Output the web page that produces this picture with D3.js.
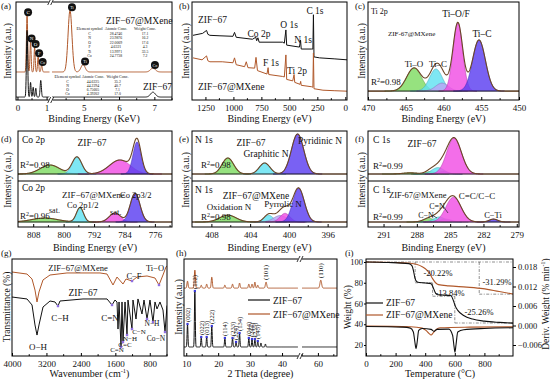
<!DOCTYPE html>
<html>
<head>
<meta charset="utf-8">
<script src="https://cdn.jsdelivr.net/npm/d3@7"></script>
<style>
  body { margin: 0; background: #fff; }
  svg { display: block; font-family: "Liberation Serif", "Times New Roman", serif; }
</style>
</head>
<body>
<svg id="figura" width="550" height="379"></svg>
<script>
// ================= dados =================

// (a) EDS: [energia keV, altura, largura keV]
const edsBaixaMx  = [[0.33, 58, 0.05], [0.45, 31, 0.045], [0.59, 25.5, 0.045], [0.71, 16, 0.045], [0.83, 7, 0.05]];
const edsAltaMx   = [[4.61, 63, 0.13], [4.98, 7.5, 0.14], [6.96, 4, 0.16]];
const edsBaixaZif = [[0.33, 68, 0.05], [0.45, 15, 0.04], [0.54, 10, 0.04], [0.63, 9, 0.04], [0.80, 17, 0.05]];
const edsAltaZif  = [[6.96, 5, 0.16]];
const edsFundoMx = 28.6, edsFundoZif = 3;
const nomesBaixa = ["C", "N", "O", "F", "Co"];
const nomesAlta  = ["Ti", "Ti", "Co"];
const cabecalhoTabela = ["Element symbol", "Atomic Conc.", "Weight Conc."];
const tabelaMx  = [["C", "28.4746", "17.1"], ["N", "23.9876", "16.2"], ["O", "22.0009", "17.6"],
                   ["F", "4.6321", "4.3"], ["Ti", "13.9971", "33.5"], ["Co", "24.7738", "7.2"]];
const tabelaZif = [["C", "44.6225", "35.2"], ["N", "44.2294", "40.7"], ["O", "6.75605", "7.1"], ["Co", "4.39202", "17.0"]];

// (b) XPS survey: [BE eV, intensidade]
const surveyZif = [[1361,66],[1275,68],[1240,71],[1228,67],[1210,66],[1120,65.5],[1004,65],[990,69],[975,64],
  [830,62],[800,64],[792,60.5],[781,63.5],[770,59],[560,59],[545,58],[531,71.5],[524,56],[410,54],[400,61],
  [394,52],[300,52],[290,52],[285,87],[280,44],[230,43],[100,42],[-15,41]];
const surveyMx = [[1361,43],[1280,41],[1240,45],[1228,40],[1210,39],[1100,39],[1004,38],[990,43],[975,36],
  [900,34],[885,39],[870,33],[810,32.5],[798,43.5],[785,30],[700,26.5],[690,33],[684,26],[560,24],[545,23.5],
  [531,46],[524,21],[470,19.5],[458,26],[452,18],[405,16],[399,19],[394,15],[300,13.5],[290,13],[285,48],
  [280,11.5],[200,10],[100,9.5],[-15,9]];

// (c)-(f) componentes de ajuste: [centro eV, altura, FWHM eV]
const ti2p   = [[463.9, 26, 2.3], [461.0, 24.8, 2.0], [460.2, 9, 2.0], [458.1, 76.4, 1.5], [455.3, 57.4, 2.0]];
const co2pZif = [[803.6, 22.5, 6], [796.5, 42.5, 3], [785.2, 35, 6.5], [780.7, 80, 2.5]];
const co2pMx  = [[805, 11, 8], [795.7, 40, 2.2], [786.5, 25, 3.5], [781.2, 80, 3]];
const n1sZif  = [[406.3, 40, 1.4], [402.5, 27.5, 1.3], [399.1, 100, 1.5]];
const n1sMx   = [[406.3, 19, 2.0], [402.1, 19, 1.1], [400.9, 18, 1.6], [400.4, 24, 1.2], [399.0, 94, 1.4]];
const c1sZif  = [[288.6, 3, 1.5], [286.8, 6, 1.0], [286.1, 16, 1.3], [285.6, 6, 1.0], [284.65, 90, 1.55]];
const c1sMx   = [[286.9, 10, 1.2], [286.0, 14, 1.2], [285.4, 8, 1.2], [284.7, 69, 1.6], [281.1, 8, 0.9]];

// (g) FTIR: [numero de onda cm-1, transmitancia]
const ftirMx = [[4000,86.6],[3652,84.5],[3535,79.4],[3466,68],[3419,55.7],[3373,66],[3280,78.4],[3117,83.5],
  [2723,85.6],[1956,85.6],[1793,84.5],[1654,73.2],[1561,81.4],[1422,74.2],[1352,79.4],[1213,77.3],[1097,81.4],
  [864,82.5],[679,80.4],[586,73.2],[493,83.5],[423,91.8],[400,93]];
const ftirZif = [[4000,60.8],[3652,58.8],[3535,52.6],[3466,32],[3419,21.6],[3373,32],[3280,50.5],[3117,56.7],
  [3001,55.7],[2932,51.5],[2885,56.7],[2351,58.8],[1793,58.8],[1677,52.6],[1608,57.7],[1561,55.7],[1538,27.8],
  [1514,55.7],[1468,9.3],[1445,55.7],[1422,14.4],[1375,55.7],[1329,21.6],[1306,57.7],[1213,27.8],[1190,57.7],
  [1120,38.1],[1074,58.8],[981,43.3],[934,57.7],[864,38.1],[795,57.7],[725,35],[679,55.7],[632,48.5],
  [563,55.7],[493,47.4],[446,24.7],[400,52]];
const ftirMarcasZif = [[2932,51.5],[1677,52.6],[1468,9.3],[1422,14.4],[1329,21.6],[1213,27.8],[864,38.1],[725,35],[446,24.7]];
const ftirMarcasMx  = [[1213,77.3],[586,73.2]];

// (h) XRD: [2theta, altura, FWHM]
const xrdZif = [[10.4,23.7,0.3],[12.7,57.7,0.3],[14.7,10.3,0.3],[16.4,10.3,0.3],[18.0,21.6,0.3],[22.1,9.3,0.3],
  [24.5,9.3,0.3],[25.6,5.2,0.3],[26.7,14.4,0.3],[29.6,9.3,0.3],[30.6,8.2,0.3],[31.5,8.2,0.3],[32.4,6.2,0.3],
  [33.4,4.1,0.3],[34.8,3.1,0.3]];
const hklZif = ["(002)","(112)","(022)","(013)","(222)","(114)","(233)","(224)","(134)","(044)","(244)","(235)","(145)"];
const xrdMx = [[10.4,7.2,0.4],[12.7,18.6,0.4],[14.7,3,0.4],[16.4,4.1,0.4],[18.0,11.3,0.4],[22.1,3.1,0.4],
  [24.5,4.1,0.4],[26.7,5.2,0.4],[29.6,4.1,0.4],[30.6,4.1,0.4],[31.5,6.2,0.4],[32.4,3,0.4],[35.0,6.2,0.5],[60.9,8.2,0.6]];
const xrdFundoZif = 9.3, xrdFundoMx = 70;

// (i) TGA / DTG: [T °C, valor]
const tgaZif = [[0,100],[150,99.5],[290,98.4],[310,96.5],[320,92],[330,85],[340,81.5],[350,80.5],[400,79.8],
  [440,79],[455,75],[470,70],[485,68.5],[520,68.2],[575,67.5],[590,63],[605,57],[620,53.4],[660,48.5],
  [720,45],[800,43],[900,41.8],[1000,41]];
const tgaMx = [[0,100],[200,99.5],[300,98.8],[340,97.8],[380,95.5],[410,92.5],[430,89],[450,84],[470,80],
  [490,78.2],[560,77],[680,75.8],[790,74.3],[900,71.5],[1000,69]];
const dtgZif = [[0,-0.0003],[250,-0.0005],[300,-0.0008],[320,-0.002],[330,-0.005],[338,-0.0071],[346,-0.005],
  [356,-0.0015],[380,-0.0009],[440,-0.0012],[460,-0.0018],[480,-0.0012],[560,-0.0011],[585,-0.003],
  [595,-0.0065],[601,-0.0082],[608,-0.006],[620,-0.002],[660,-0.0013],[800,-0.0009],[1000,-0.0007]];
const dtgMx = [[0,-0.0002],[300,-0.0004],[380,-0.0008],[405,-0.0015],[425,-0.0024],[440,-0.0029],[455,-0.0022],
  [475,-0.0012],[500,-0.0007],[700,-0.0005],[1000,-0.0004]];
const guiasTga = [[[0,100],[1000,100]], [[332,100],[332,80]], [[332,80],[450,80]], [[450,80],[450,67]],
  [[450,67],[600,67]], [[600,67],[600,41.2]], [[600,41.2],[1000,41.2]], [[765,100],[765,69]], [[765,69],[1000,69]]];

// ================= utilidades =================
const FONTE = '"Liberation Serif", "Times New Roman", serif';
const MARROM = "#b0582a";
const VERDE = "#7fdc63", CIANO = "#62e2f2", MAGENTA = "#f04ee4", AZUL = "#5b3ef0", LILAS = "#b9a4f5";
const svg = d3.select("#figura");
const defs = svg.append("defs");
const gauss = (p, v) => p[1] * Math.exp(-4 * Math.LN2 * ((v - p[0]) / p[2]) ** 2);

let contadorClip = 0;
function recorte(x0, y0, x1, y1) {
    const id = "rec" + (contadorClip++);
    defs.append("clipPath").attr("id", id).append("rect")
        .attr("x", x0).attr("y", y0).attr("width", x1 - x0).attr("height", y1 - y0);
    return `url(#${id})`;
}

function quadro(x0, y0, x1, y1) {
    svg.append("rect").attr("x", x0).attr("y", y0).attr("width", x1 - x0).attr("height", y1 - y0)
        .attr("fill", "none").attr("stroke", "#000").attr("stroke-width", 1);
}

function texto(x, y, s, tam = 9.5, ancora = "start", rot = 0) {
    const t = svg.append("text").attr("x", x).attr("y", y).attr("font-size", tam)
        .attr("text-anchor", ancora).attr("fill", "#111").text(s);
    if (rot) t.attr("transform", `rotate(${rot},${x},${y})`);
    return t;
}

function textoR2(x, y, valor) {
    const t = svg.append("text").attr("x", x).attr("y", y).attr("font-size", 9).attr("fill", "#111");
    t.append("tspan").text("R");
    t.append("tspan").attr("dy", -3.5).attr("font-size", 6).text("2");
    t.append("tspan").attr("dy", 3.5).text("=" + valor);
}

function eixoX(escala, y, maiores, menores, formato) {
    const g = svg.append("g").attr("transform", `translate(0,${y})`)
        .call(d3.axisBottom(escala).tickValues(maiores).tickSizeInner(-3).tickSizeOuter(0)
            .tickPadding(5).tickFormat(formato || d3.format("d")));
    g.select(".domain").remove();
    g.selectAll("text").attr("font-size", 9).attr("font-family", FONTE).attr("fill", "#111");
    g.selectAll(".menor").data(menores || []).enter().append("line").attr("class", "menor")
        .attr("x1", d => escala(d)).attr("x2", d => escala(d)).attr("y1", 0).attr("y2", -1.8).attr("stroke", "#000");
}

function quebra(x, y) {
    svg.append("rect").attr("x", x - 2).attr("y", y - 3).attr("width", 4).attr("height", 6).attr("fill", "#fff");
    [-1.5, 1.5].forEach(d => svg.append("line").attr("x1", x + d - 1.5).attr("y1", y + 3)
        .attr("x2", x + d + 1.5).attr("y2", y - 3).attr("stroke", "#000").attr("stroke-width", 0.8));
}

function linhaPicos(x, y, fundo, picos, passo) {
    const [lo, hi] = d3.extent(x.domain());
    const grade = d3.range(lo, hi + passo / 2, passo);
    return d3.line().x(v => x(v)).y(v => y(fundo + d3.sum(picos, p => gauss(p, v))))(grade);
}

function ajuste(x, y, picos, cores, clip) {
    const [lo, hi] = d3.extent(x.domain());
    const grade = d3.range(lo, hi + 0.02, 0.02);
    const g = svg.append("g").attr("clip-path", clip);
    picos.forEach((p, i) => {
        const trecho = grade.filter(v => Math.abs(v - p[0]) < 1.7 * p[2]);
        g.append("path").datum(trecho)
            .attr("d", d3.area().x(v => x(v)).y0(y(0)).y1(v => y(gauss(p, v))))
            .attr("fill", cores[i]).attr("fill-opacity", 0.82)
            .attr("stroke", d3.color(cores[i]).darker(0.8)).attr("stroke-width", 0.6);
    });
    g.append("line").attr("x1", x.range()[0]).attr("x2", x.range()[1])
        .attr("y1", y(0)).attr("y2", y(0)).attr("stroke", "#222").attr("stroke-width", 0.9);
    g.append("path").datum(grade)
        .attr("d", d3.line().x(v => x(v)).y(v => y(d3.sum(picos, p => gauss(p, v)))))
        .attr("fill", "none").attr("stroke", "#6b4526").attr("stroke-width", 1.1);
}

function rotuloCirculo(cx, cy, s) {
    svg.append("circle").attr("cx", cx).attr("cy", cy).attr("r", 4).attr("fill", "#111");
    svg.append("text").attr("x", cx).attr("y", cy + 1.8).attr("text-anchor", "middle")
        .attr("font-size", s.length > 1 ? 4 : 5).attr("fill", "#fff").text(s);
}

// ================= (a) EDS =================
const xa1 = d3.scaleLinear([-0.05, 1.1], [16, 49.5]);
const xa2 = d3.scaleLinear([4.1, 7.5], [52, 172]);
const ya = d3.scaleLinear([0, 100], [100, 2]);
{
    const clip = recorte(16, 2, 172, 100);
    const g = svg.append("g").attr("clip-path", clip);
    [[edsFundoMx, edsBaixaMx, edsAltaMx, MARROM], [edsFundoZif, edsBaixaZif, edsAltaZif, "#111"]].forEach(([f, b, a, cor]) => {
        g.append("path").attr("d", linhaPicos(xa1, ya, f, b, 0.004)).attr("fill", "none").attr("stroke", cor).attr("stroke-width", 1);
        g.append("path").attr("d", linhaPicos(xa2, ya, f, a, 0.01)).attr("fill", "none").attr("stroke", cor).attr("stroke-width", 1);
    });
    edsBaixaMx.forEach((p, i) => rotuloCirculo(xa1(p[0]) + 1, ya(edsFundoMx + p[1]) - 3, nomesBaixa[i]));
    edsAltaMx.forEach((p, i) => rotuloCirculo(xa2(p[0]) + 2, ya(edsFundoMx + p[1]) - 3, nomesAlta[i]));
    quadro(16, 2, 172, 100);
    quebra(50.7, 100); quebra(50.7, 2);
    eixoX(xa1, 100, [0, 1], [0.5]);
    eixoX(xa2, 100, [5, 6, 7], [4.5, 5.5, 6.5, 7.5]);
    // tabelas
    [[tabelaMx, [89.5, 116, 145], 30, 4.5], [tabelaZif, [67.5, 93, 117.5], 78, 4]].forEach(([tab, cols, y0, passo]) => {
        cabecalhoTabela.forEach((h, j) => texto(cols[j], y0, h, 4, "middle"));
        tab.forEach((linha, i) => linha.forEach((c, j) => texto(cols[j], y0 + 4.5 + i * passo, c, 3.8, "middle")));
    });
    texto(106, 24, "ZIF\u221267@MXene", 9.5);
    texto(143, 90, "ZIF\u221267", 9.5);
    texto(94, 122, "Binding Energy (KeV)", 10, "middle");
    texto(11, 51, "Intensity (a.u.)", 9.5, "middle", -90);
    texto(1, 9, "(a)", 9);
}

// ================= (b) survey =================
const xb = d3.scaleLinear([1370, -15], [192, 347]);
const yb = d3.scaleLinear([0, 100], [100, 2]);
{
    const g = svg.append("g").attr("clip-path", recorte(192, 2, 347, 100));
    const linha = d3.line().x(d => xb(d[0])).y(d => yb(d[1]));
    g.append("path").datum(surveyZif).attr("d", linha).attr("fill", "none").attr("stroke", "#111").attr("stroke-width", 1);
    g.append("path").datum(surveyMx).attr("d", linha).attr("fill", "none").attr("stroke", MARROM).attr("stroke-width", 1);
    quadro(192, 2, 347, 100);
    eixoX(xb, 100, [1250, 1000, 750, 500, 250, 0], [1125, 875, 625, 375, 125]);
    texto(198, 23, "ZIF\u221267", 9.5);
    texto(259, 37, "Co 2p", 9.5, "middle");
    texto(289, 28, "O 1s", 9.5, "middle");
    texto(303, 43, "N 1s", 9.5, "middle");
    texto(315, 14, "C 1s", 9.5, "middle");
    texto(271, 66, "F 1s", 9.5, "middle");
    texto(297, 74, "Ti 2p", 9.5, "middle");
    texto(198, 90, "ZIF\u221267@MXene", 9.5);
    texto(269.5, 122, "Binding Energy (eV)", 10, "middle");
    texto(189, 51, "Intensity (a.u.)", 9.5, "middle", -90);
    texto(179, 9, "(b)", 9);
}

// ================= (c) Ti 2p =================
const xc = d3.scaleLinear([470, 450], [368, 519]);
const yc = d3.scaleLinear([-10, 100], [100, 2]);
{
    ajuste(xc, yc, ti2p, [VERDE, CIANO, LILAS, MAGENTA, AZUL], recorte(368, 2, 519, 100));
    quadro(368, 2, 519, 100);
    eixoX(xc, 100, [470, 465, 460, 455, 450], [467.5, 462.5, 457.5, 452.5]);
    texto(371, 14, "Ti 2p", 8);
    texto(388, 36, "ZIF-67@MXene", 7);
    texto(456, 17, "Ti\u2013O/F", 9.5, "middle");
    texto(482, 37, "Ti\u2013C", 9.5, "middle");
    texto(414, 67, "Ti\u2013O", 9, "middle");
    texto(438, 67, "Ti\u2013C", 9, "middle");
    textoR2(371, 85, "0.98");
    texto(443.5, 122, "Binding Energy (eV)", 10, "middle");
    texto(365, 51, "Intensity (a.u.)", 9.5, "middle", -90);
    texto(355, 9, "(c)", 9);
}

// ================= (d)(e)(f) dois quadros =================
const yCima = d3.scaleLinear([0, 100], [174, 134]);
const yBaixo = d3.scaleLinear([0, 100], [222, 186]);
function painelDuplo(x0, x1, x, cima, coresCima, baixo, coresBaixo, ticks, menores) {
    ajuste(x, yCima, cima, coresCima, recorte(x0, 131, x1, 181));
    ajuste(x, yBaixo, baixo, coresBaixo, recorte(x0, 181, x1, 227));
    quadro(x0, 131, x1, 227);
    svg.append("line").attr("x1", x0).attr("x2", x1).attr("y1", 181).attr("y2", 181).attr("stroke", "#000").attr("stroke-width", 1);
    eixoX(x, 227, ticks, menores);
    texto((x0 + x1) / 2, 251, "Binding Energy (eV)", 10, "middle");
}

const xd = d3.scaleLinear([812, 771.5], [18, 172]);
painelDuplo(18, 172, xd, co2pZif, [VERDE, CIANO, MAGENTA, AZUL], co2pMx, [VERDE, CIANO, MAGENTA, AZUL],
    [808, 800, 792, 784, 776], [804, 796, 788, 780, 772]);
texto(22, 143, "Co 2p", 9.5);
texto(92, 146, "ZIF\u221267", 9.5, "middle");
textoR2(20, 168, "0.98");
texto(22, 191, "Co 2p", 9.5);
texto(62, 198, "ZIF\u221267@MXene", 9);
texto(120, 198, "Co 2p3/2", 8.5);
texto(67, 208, "Co 2p1/2", 8.5);
texto(110, 215, "sat.", 8.5);
texto(49, 213, "sat.", 8);
textoR2(20, 219, "0.96");
texto(11, 180, "Intensity (a.u.)", 9.5, "middle", -90);
texto(1, 142, "(d)", 9);

const xe = d3.scaleLinear([410, 394], [192, 347]);
painelDuplo(192, 347, xe, n1sZif, [VERDE, CIANO, AZUL], n1sMx, [VERDE, CIANO, LILAS, MAGENTA, AZUL],
    [408, 404, 400, 396], [406, 402, 398]);
texto(195, 143, "N 1s", 9.5);
texto(251, 146, "ZIF\u221267", 9.5, "middle");
texto(266, 157, "Graphitic N", 9.5, "middle");
texto(320, 144, "Pyridinic N", 9.5, "middle");
textoR2(201, 168, "0.98");
texto(195, 193, "N 1s", 9.5);
texto(256, 199, "ZIF\u221267@MXene", 9.5, "middle");
texto(229, 209.5, "Oxidation N", 9, "middle");
texto(283, 207, "Pyrrolic N", 9, "middle");
textoR2(201, 220, "0.98");
texto(189, 180, "Intensity (a.u.)", 9.5, "middle", -90);
texto(179, 142, "(e)", 9);

const xf = d3.scaleLinear([292.4, 278.8], [368, 519]);
painelDuplo(368, 519, xf, c1sZif, [VERDE, VERDE, CIANO, "#8e8ef2", MAGENTA], c1sMx, [VERDE, CIANO, LILAS, MAGENTA, AZUL],
    [291, 288, 285, 282, 279], [289.5, 286.5, 283.5, 280.5]);
texto(373, 143, "C 1s", 9.5);
texto(422, 147, "ZIF\u221267", 9.5, "middle");
textoR2(373, 169, "0.99");
texto(373, 193, "C 1s", 9.5);
texto(389, 198, "ZIF-67@MXene", 8.5);
texto(477, 199, "C=C/C\u2212C", 9, "middle");
texto(437, 209, "C=N", 8, "middle");
texto(426, 218, "C\u2212N", 8, "middle");
texto(493, 218, "C\u2212Ti", 8.5, "middle");
textoR2(373, 220, "0.99");
[[443, 206, 448, 213], [432, 215, 437, 218]].forEach(s => svg.append("line")
    .attr("x1", s[0]).attr("y1", s[1]).attr("x2", s[2]).attr("y2", s[3]).attr("stroke", "#222").attr("stroke-width", 0.7));
texto(365, 180, "Intensity (a.u.)", 9.5, "middle", -90);
texto(355, 142, "(f)", 9);

// ================= (g) FTIR =================
const xg = d3.scaleLinear([4000, 400], [12, 167]);
const yg = d3.scaleLinear([0, 100], [356, 259]);
{
    const g = svg.append("g").attr("clip-path", recorte(12, 259, 167, 356));
    const linha = d3.line().x(d => xg(d[0])).y(d => yg(d[1]));
    g.append("path").datum(ftirMx).attr("d", linha).attr("fill", "none").attr("stroke", MARROM).attr("stroke-width", 1);
    g.append("path").datum(ftirZif).attr("d", linha).attr("fill", "none").attr("stroke", "#111").attr("stroke-width", 1);
    g.selectAll(".marca").data(ftirMarcasZif.concat(ftirMarcasMx)).enter().append("rect")
        .attr("x", d => xg(d[0]) - 1.2).attr("y", d => yg(d[1]) - 1.2).attr("width", 2.4).attr("height", 2.4).attr("fill", "#8f6fe0");
    quadro(12, 259, 167, 356);
    eixoX(xg, 356, [4000, 3200, 2400, 1600, 800], [3600, 2800, 2000, 1200, 400]);
    texto(78, 271, "ZIF\u221267@MXene", 8.5, "middle");
    texto(83, 296, "ZIF\u221267", 9.5, "middle");
    texto(134, 279, "C\u2212F", 8.5, "middle");
    texto(155, 271, "Ti\u2212O", 8.5, "middle");
    texto(38, 350, "O\u2212H", 9, "middle");
    texto(60, 321, "C\u2212H", 9, "middle");
    texto(110, 321, "C=N", 9, "middle");
    texto(152, 326, "N\u2212H", 7.5, "middle");
    texto(139, 333.5, "C\u2212N", 7, "middle");
    texto(130, 340.5, "N\u2212H", 7, "middle");
    texto(156, 341, "Co\u2212N", 7.5, "middle");
    texto(125, 347, "C=C", 7, "middle");
    texto(117, 352, "C=N", 7, "middle");
    const t = svg.append("text").attr("x", 89.5).attr("y", 377).attr("font-size", 10).attr("text-anchor", "middle").attr("fill", "#111");
    t.append("tspan").text("Wavenumber (cm");
    t.append("tspan").attr("dy", -4).attr("font-size", 6.5).text("-1");
    t.append("tspan").attr("dy", 4).text(")");
    texto(10, 307, "Transmittance (%)", 9.5, "middle", -90);
    texto(1, 256, "(g)", 9);
}

// ================= (h) XRD =================
const xh1 = d3.scaleLinear([9.3, 45], [184, 298]);
const xh2 = d3.scaleLinear([55, 66], [302, 337]);
const yh = d3.scaleLinear([0, 100], [356, 259]);
{
    const g = svg.append("g").attr("clip-path", recorte(184, 259, 337, 356));
    [xh1, xh2].forEach(x => {
        g.append("path").attr("d", linhaPicos(x, yh, xrdFundoMx, xrdMx, 0.04)).attr("fill", "none").attr("stroke", MARROM).attr("stroke-width", 1);
        g.append("path").attr("d", linhaPicos(x, yh, xrdFundoZif, xrdZif, 0.04)).attr("fill", "none").attr("stroke", "#111").attr("stroke-width", 1);
    });
    g.selectAll(".pico").data(xrdZif.slice(0, hklZif.length)).enter().append("rect")
        .attr("x", d => xh1(d[0]) - 1.1).attr("y", d => yh(xrdFundoZif + d[1]) - 1.1)
        .attr("width", 2.2).attr("height", 2.2).attr("fill", "#3a3ad8");
    xrdZif.slice(0, hklZif.length).forEach((d, i) =>
        texto(xh1(d[0]) + 2.4, yh(xrdFundoZif + d[1]) - 2, hklZif[i], 6.5, "start", -90));
    texto(xh1(35.0) + 2.4, yh(xrdFundoMx + 6.2) - 2, "(101)", 7, "start", -90);
    texto(xh2(60.9) + 2.4, yh(xrdFundoMx + 8.2) - 2, "(110)", 7, "start", -90);
    quadro(184, 259, 337, 356);
    quebra(300, 356); quebra(300, 259);
    eixoX(xh1, 356, [10, 20, 30, 40], [15, 25, 35]);
    eixoX(xh2, 356, [60], [55, 65]);
    svg.append("line").attr("x1", 248).attr("x2", 270).attr("y1", 300).attr("y2", 300).attr("stroke", "#111").attr("stroke-width", 1.2);
    svg.append("line").attr("x1", 248).attr("x2", 270).attr("y1", 314).attr("y2", 314).attr("stroke", MARROM).attr("stroke-width", 1.2);
    texto(273, 304, "ZIF\u221267", 9.5);
    texto(273, 318, "ZIF\u221267@MXene", 9.5);
    texto(260.5, 377, "2 Theta (degree)", 10, "middle");
    texto(182, 307, "Intensity (a.u.)", 9.5, "middle", -90);
    texto(176, 256, "(h)", 9);
}

// ================= (i) TGA =================
const xi = d3.scaleLinear([0, 1000], [366, 514]);
const yiL = d3.scaleLinear([20, 100], [345, 262]);
const yiR = d3.scaleLinear([-0.006, 0.018], [345, 267]);
{
    const g = svg.append("g").attr("clip-path", recorte(366, 259, 513, 356));
    guiasTga.forEach(s => g.append("line").attr("x1", xi(s[0][0])).attr("y1", yiL(s[0][1]))
        .attr("x2", xi(s[1][0])).attr("y2", yiL(s[1][1])).attr("stroke", "#444").attr("stroke-width", 0.6)
        .attr("stroke-dasharray", "3,1.5,1,1.5"));
    const lL = d3.line().curve(d3.curveMonotoneX).x(d => xi(d[0])).y(d => yiL(d[1]));
    const lR = d3.line().curve(d3.curveMonotoneX).x(d => xi(d[0])).y(d => yiR(d[1]));
    g.append("path").datum(tgaMx).attr("d", lL).attr("fill", "none").attr("stroke", MARROM).attr("stroke-width", 1.1);
    g.append("path").datum(tgaZif).attr("d", lL).attr("fill", "none").attr("stroke", "#111").attr("stroke-width", 1.1);
    g.append("path").datum(dtgMx).attr("d", lR).attr("fill", "none").attr("stroke", MARROM).attr("stroke-width", 1.1);
    g.append("path").datum(dtgZif).attr("d", lR).attr("fill", "none").attr("stroke", "#111").attr("stroke-width", 1.1);
    quadro(366, 259, 513, 356);
    eixoX(xi, 356, [0, 200, 400, 600, 800], [100, 300, 500, 700, 900]);
    const eL = svg.append("g").attr("transform", "translate(366,0)")
        .call(d3.axisLeft(yiL).tickValues([20, 40, 60, 80, 100]).tickSize(2).tickPadding(1));
    const eR = svg.append("g").attr("transform", "translate(513,0)")
        .call(d3.axisRight(yiR).tickValues([-0.006, 0, 0.006, 0.012, 0.018]).tickSize(3).tickPadding(2).tickFormat(d3.format(".3f")));
    [eL, eR].forEach(e => {
        e.select(".domain").remove();
        e.selectAll("text").attr("font-size", 8.5).attr("font-family", FONTE).attr("fill", "#111");
    });
    texto(438, 276, "-20.22%", 8.5, "middle");
    texto(450, 296, "-13.84%", 8.5, "middle");
    texto(479, 315, "-25.26%", 8.5, "middle");
    texto(497, 285, "-31.29%", 8.5, "middle");
    svg.append("line").attr("x1", 366).attr("x2", 383).attr("y1", 303).attr("y2", 303).attr("stroke", "#111").attr("stroke-width", 1.2);
    svg.append("line").attr("x1", 366).attr("x2", 383).attr("y1", 315).attr("y2", 315).attr("stroke", MARROM).attr("stroke-width", 1.2);
    texto(386, 306, "ZIF\u221267", 9.5);
    texto(386, 318, "ZIF\u221267@MXene", 9.5);
    texto(440, 377, "Temperature (\u00b0C)", 10, "middle");
    texto(351, 307, "Weight (%)", 9.5, "middle", -90);
    const t = svg.append("text").attr("x", 549).attr("y", 304).attr("font-size", 9.5).attr("text-anchor", "middle")
        .attr("fill", "#111").attr("transform", "rotate(-90,549,304)");
    t.append("tspan").text("Deriv. Weight (% min");
    t.append("tspan").attr("dy", -4).attr("font-size", 6).text("-1");
    t.append("tspan").attr("dy", 4).text(")");
    texto(345, 256, "(i)", 9);
}
</script>
</body>
</html>
